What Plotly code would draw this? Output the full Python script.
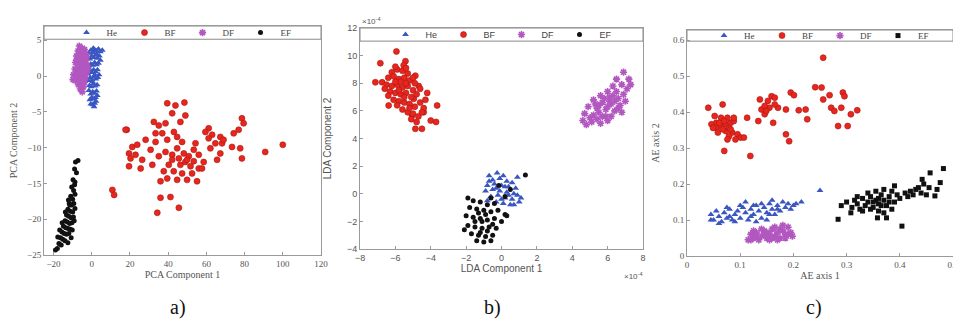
import plotly.graph_objects as go

W, H = 961, 326

# ---------------- Panel a) PCA ----------------
a_He_x = [5.5,4.5,3.5,2.5,1.5,0.5,-0.5,-1.5,4.0,3.0,2.0,1.0,0.0,-1.0,-2.0,3.5,2.5,1.5,0.5,-0.5,-1.5,3.0,2.0,1.0,0.0,-1.0,-2.0,3.2,2.2,1.2,0.2,-0.8,-1.8,2.8,1.8,0.8,-0.2,-1.2,2.5,1.5,0.5,-0.5,-1.5,2.0,1.0,0.0,-1.0,1.5,0.5,-0.5,1.2,2.2,4.5,3.8,2.6,0.8,-1.2,1.6,0.4,2.9]
a_He_y = [3.6,3.4,3.8,3.5,3.7,3.3,3.6,3.2,2.8,2.5,2.9,2.6,2.8,2.4,2.7,1.8,1.6,1.9,1.5,1.7,1.4,0.9,0.6,0.9,0.5,0.8,0.3,-0.2,-0.4,-0.1,-0.5,-0.2,-0.6,-1.2,-1.4,-1.1,-1.5,-1.3,-2.1,-2.4,-2.2,-2.5,-2.0,-3.0,-3.2,-3.0,-3.3,-3.8,-4.0,-3.9,-4.3,-3.5,2.2,0.2,3.1,3.9,1.0,0.2,-0.8,-2.7]

a_BF_x = [18.3,39.5,43.8,48.5,42.1,49.0,46.4,17.7,32.5,35.1,38.6,33.4,36.9,43.0,44.7,61.2,63.0,67.3,74.3,76.9,78.6,79.5,28.2,33.4,39.5,47.3,54.3,61.2,68.2,73.4,77.7,90.8,100.0,78.6,21.2,23.8,19.5,22.9,20.3,26.4,19.5,25.6,31.7,35.1,38.6,42.1,44.7,48.2,50.8,53.4,56.0,58.6,49.0,46.4,51.7,56.0,40.3,42.9,47.3,52.5,57.7,65.6,67.3,62.1,39.5,36.0,44.7,49.9,55.1,10.8,11.7,36.0,41.2,34.3,45.6,42.1,45.6,49.9,53.4,37.7,30.8,59.5,64.7,69.0]
a_BF_y = [-7.5,-3.8,-4.1,-3.7,-5.2,-5.5,-6.4,-7.5,-6.4,-6.9,-6.6,-8.0,-8.0,-7.8,-8.5,-7.3,-8.2,-8.5,-8.0,-7.5,-5.9,-6.6,-8.9,-9.2,-8.9,-9.2,-9.4,-8.7,-9.4,-9.9,-10.1,-10.6,-9.6,-11.5,-9.9,-9.6,-10.8,-11.0,-11.5,-11.7,-12.6,-12.9,-12.4,-11.2,-10.6,-11.0,-10.1,-10.8,-11.2,-10.3,-11.0,-12.0,-12.0,-12.4,-12.6,-12.9,-12.4,-13.3,-13.6,-13.6,-12.9,-11.7,-10.8,-10.1,-14.3,-14.7,-14.5,-14.5,-14.7,-15.9,-16.6,-17.0,-16.9,-19.1,-18.4,-11.7,-11.5,-11.7,-11.9,-13.3,-10.3,-7.8,-9.4,-8.9]

a_DF_x = [-6.5,-5.0,-3.8,-7.2,-6.0,-4.6,-3.2,-8.0,-6.8,-5.5,-4.2,-2.8,-8.5,-7.3,-6.1,-4.9,-3.7,-2.5,-8.8,-7.6,-6.4,-5.2,-4.0,-2.8,-9.5,-8.2,-7.0,-5.8,-4.6,-3.4,-8.6,-7.4,-6.2,-5.0,-3.8,-7.0,-5.6,-4.4,-6.0,-5.0,-9.8,-7.8,-5.8,-3.0,-6.6,-4.4,-5.5,-6.8,-2.2,-3.4]
a_DF_y = [4.2,3.9,3.7,3.5,3.3,3.4,3.1,2.8,2.6,2.9,2.5,2.7,1.9,1.7,2.0,1.6,1.8,1.5,1.0,0.8,1.1,0.7,0.9,0.6,0.2,0.1,0.3,-0.1,0.2,-0.2,-0.6,-0.5,-0.8,-0.5,-0.9,-1.2,-1.3,-1.5,-1.8,-2.2,-0.5,2.3,3.7,2.2,1.5,1.2,0.4,-0.1,1.0,0.3]

a_EF_x = [-8.5,-7.2,-9.0,-8.0,-9.8,-8.8,-10.5,-9.5,-11.0,-10.0,-8.8,-11.8,-10.6,-9.4,-12.5,-11.2,-10.0,-8.8,-13.2,-12.0,-10.8,-9.6,-14.0,-12.8,-11.6,-10.4,-9.2,-14.8,-13.6,-12.4,-11.2,-15.6,-14.4,-13.2,-12.0,-10.8,-16.4,-15.2,-14.0,-17.2,-16.0,-18.0,-19.0,-12.5,-11.5,-13.8,-15.5,-16.8,-17.8,-10.2,-9.0,-12.2]
a_EF_y = [-12.0,-11.8,-13.0,-13.5,-14.5,-14.8,-15.5,-16.0,-16.8,-17.2,-16.5,-17.8,-18.0,-17.8,-18.6,-18.9,-19.0,-18.5,-19.4,-19.6,-19.8,-19.7,-20.2,-20.4,-20.6,-20.5,-20.2,-21.0,-21.2,-21.3,-21.4,-21.8,-22.0,-22.1,-22.0,-22.6,-22.6,-22.8,-23.0,-23.4,-23.6,-24.1,-24.3,-23.3,-18.0,-19.0,-20.5,-21.5,-22.5,-21.5,-15.2,-17.3]

# ---------------- Panel b) LDA (x1e-4) ----------------
b_He_x = [-0.7,-0.25,0.9,-0.5,-0.1,0.3,-0.8,-0.4,0.0,0.4,0.8,-0.9,-0.5,-0.1,0.3,0.7,1.1,-0.6,-0.2,0.2,0.6,1.0,-0.3,0.1,0.5,-0.7,0.1,0.6,-0.3,0.9,0.0,0.4,-0.8,0.7,0.2]
b_He_y = [1.3,1.5,1.2,1.0,1.1,0.9,0.6,0.7,0.6,0.5,0.4,0.2,0.3,0.2,0.1,0.0,-0.3,-0.2,-0.1,-0.3,-0.4,-0.6,-0.6,-0.7,-0.8,0.9,1.3,0.8,0.4,-0.1,-0.4,-0.1,-0.5,-0.8,0.5]

b_BF_x = [-5.94,-6.85,-7.13,-6.75,-5.43,-5.53,-6.38,-3.64,-4.2,-4.87,-4.68,-4.96,-4.4,-5.06,-4.87,-4.5,-4.0,-3.7,-6.2,-5.9,-5.6,-5.3,-6.4,-6.1,-5.8,-5.5,-5.2,-4.9,-6.5,-6.2,-5.9,-5.6,-5.3,-5.0,-6.3,-6.0,-5.7,-5.4,-5.1,-4.8,-6.1,-5.8,-5.5,-5.2,-4.9,-4.6,-5.6,-5.3,-5.0,-4.7,-4.4,-5.7,-6.0,-5.4,-5.8,-5.5,-6.4,-4.6,-5.2,-4.8,-5.9,-4.3,-6.6,-5.0,-5.4,-6.0,-4.5,-5.1]
b_BF_y = [10.3,9.45,8.07,8.07,9.6,9.3,6.39,6.39,7.3,8.55,7.8,6.87,5.9,5.66,4.7,4.7,5.3,5.2,8.8,9.0,8.9,8.7,8.4,8.5,8.3,8.4,8.2,8.0,7.9,7.8,7.9,7.7,7.8,7.5,7.4,7.3,7.2,7.3,7.0,7.2,6.8,6.7,6.6,6.5,6.3,6.6,6.1,5.9,5.8,5.6,6.2,8.1,8.1,8.0,7.5,7.0,7.1,7.6,6.2,5.2,6.4,6.8,7.6,8.4,9.1,9.2,5.9,5.4]

b_DF_x = [6.9,7.2,6.5,6.8,7.1,6.3,6.0,6.5,6.9,5.6,6.1,6.6,7.0,5.2,5.7,6.2,6.7,4.9,5.4,5.9,6.4,6.8,4.7,5.2,5.7,6.2,4.6,5.1,5.6,6.0,5.0,5.5,6.0,6.4,5.8,5.3,6.3,4.8,5.4,6.6,7.3,5.9,6.1,5.5]
b_DF_y = [8.8,8.3,8.3,7.9,7.6,7.8,7.4,7.4,7.2,7.1,7.0,6.9,6.7,6.8,6.6,6.5,6.4,6.3,6.2,6.1,6.0,5.9,5.8,5.7,5.6,5.6,5.3,5.2,5.1,5.3,5.5,5.9,6.3,6.7,6.9,6.5,7.1,5.0,5.4,6.2,7.9,5.6,6.7,6.4]

b_EF_x = [-1.9,-1.6,-1.2,-0.8,-0.4,-1.8,-1.4,-1.0,-0.6,-0.2,0.2,-2.0,-1.6,-1.2,-0.8,-0.4,0.0,-1.9,-1.5,-1.1,-0.7,-0.3,-1.7,-1.3,-0.9,-0.5,-1.4,-1.0,-0.6,-1.1,-0.9,-1.3,-0.5,-1.5,-0.8,-1.2,-2.1,0.3,-0.15,1.35,0.5,0.2,-0.6]
b_EF_y = [-0.3,-0.5,-0.6,-0.8,-0.7,-1.0,-1.1,-1.2,-1.3,-1.2,-1.5,-1.6,-1.7,-1.8,-1.9,-1.8,-2.0,-2.3,-2.4,-2.5,-2.4,-2.5,-2.9,-3.0,-3.1,-3.0,-3.4,-3.5,-3.4,-2.0,-1.5,-1.4,-2.2,-2.0,-2.7,-2.8,-2.6,-1.6,0.6,1.35,0.3,-0.2,-0.3]

# ---------------- Panel c) AE ----------------
c_He_x = [0.045,0.05,0.055,0.06,0.065,0.07,0.075,0.08,0.085,0.09,0.095,0.10,0.105,0.11,0.115,0.12,0.125,0.13,0.135,0.14,0.145,0.15,0.155,0.16,0.165,0.17,0.175,0.18,0.185,0.19,0.20,0.215,0.25,0.06,0.09,0.12,0.15,0.10,0.13,0.16,0.075,0.11,0.14,0.17,0.08,0.045,0.195,0.155,0.125,0.205]
c_He_y = [0.115,0.10,0.125,0.11,0.095,0.12,0.105,0.13,0.10,0.115,0.125,0.105,0.135,0.12,0.10,0.13,0.115,0.14,0.125,0.105,0.135,0.12,0.145,0.13,0.115,0.14,0.125,0.15,0.135,0.145,0.14,0.15,0.182,0.09,0.095,0.11,0.10,0.14,0.095,0.155,0.135,0.15,0.145,0.13,0.11,0.10,0.13,0.115,0.14,0.145]

c_BF_x = [0.040,0.067,0.052,0.055,0.046,0.055,0.064,0.073,0.082,0.088,0.073,0.085,0.095,0.101,0.091,0.079,0.058,0.064,0.076,0.088,0.070,0.119,0.113,0.134,0.140,0.152,0.159,0.165,0.137,0.155,0.146,0.162,0.171,0.186,0.186,0.192,0.195,0.201,0.210,0.223,0.226,0.241,0.253,0.256,0.256,0.268,0.271,0.277,0.284,0.290,0.293,0.296,0.302,0.308,0.320,0.049,0.061,0.070,0.079,0.067,0.082,0.076,0.107,0.146,0.149,0.165]
c_BF_y = [0.412,0.421,0.389,0.370,0.366,0.356,0.361,0.366,0.370,0.375,0.347,0.343,0.338,0.329,0.324,0.333,0.343,0.384,0.384,0.384,0.292,0.278,0.384,0.375,0.407,0.431,0.444,0.440,0.435,0.412,0.394,0.370,0.412,0.407,0.338,0.319,0.454,0.447,0.405,0.407,0.380,0.469,0.468,0.551,0.435,0.447,0.412,0.403,0.361,0.412,0.454,0.444,0.361,0.394,0.405,0.356,0.370,0.375,0.356,0.352,0.352,0.324,0.329,0.417,0.403,0.421]

c_DF_x = [0.115,0.12,0.125,0.13,0.135,0.14,0.145,0.15,0.155,0.16,0.165,0.17,0.175,0.18,0.185,0.19,0.195,0.198,0.125,0.14,0.155,0.165,0.175,0.185,0.13,0.15,0.16,0.17,0.18,0.145,0.12,0.19]
c_DF_y = [0.045,0.06,0.05,0.065,0.045,0.055,0.07,0.05,0.06,0.075,0.055,0.065,0.05,0.07,0.06,0.08,0.065,0.055,0.07,0.075,0.045,0.08,0.075,0.05,0.055,0.065,0.05,0.045,0.085,0.06,0.045,0.06]

c_EF_x = [0.284,0.308,0.358,0.375,0.404,0.482,0.457,0.476,0.442,0.43,0.466,0.45,0.29,0.30,0.31,0.315,0.32,0.325,0.33,0.335,0.34,0.345,0.35,0.355,0.36,0.365,0.37,0.375,0.38,0.385,0.39,0.395,0.40,0.41,0.415,0.42,0.425,0.435,0.44,0.445,0.455,0.47,0.33,0.345,0.36,0.37,0.385,0.34,0.355,0.37,0.39,0.32,0.35,0.36,0.38,0.365]
c_EF_y = [0.102,0.120,0.106,0.106,0.083,0.243,0.231,0.204,0.213,0.185,0.167,0.17,0.14,0.15,0.135,0.155,0.145,0.13,0.16,0.14,0.15,0.165,0.135,0.155,0.145,0.17,0.155,0.14,0.165,0.18,0.15,0.17,0.16,0.175,0.165,0.18,0.17,0.19,0.175,0.2,0.19,0.185,0.125,0.13,0.125,0.12,0.13,0.175,0.18,0.185,0.195,0.165,0.15,0.16,0.15,0.14]

classes = ["He", "BF", "DF", "EF"]

BLUE = "#3a56c2"
RED = "#e8261e"
PURPLE = "#b257c0"
BLACK = "#111111"

def px_x(p):
    return p / W

def px_y(p):
    return 1 - p / H

panels = [
    dict(name="a", xd=[px_x(36), px_x(313)], yd=[px_y(247), px_y(18)], xr=[-25, 120], yr=[-25, 7],
         xt=list(range(-20, 121, 20)), yt=list(range(-25, 6, 5)), box=[5.15, 7], ystand=9,
         xtitle="PCA Component 1", ytitle="PCA Component 2", font="Liberation Serif",
         data={"He": (a_He_x, a_He_y), "BF": (a_BF_x, a_BF_y), "DF": (a_DF_x, a_DF_y), "EF": (a_EF_x, a_EF_y)},
         ef_symbol="circle"),
    dict(name="b", xd=[px_x(352), px_x(635)], yd=[px_y(241), px_y(20)], xr=[-8, 8], yr=[-4, 12],
         xt=list(range(-8, 9, 2)), yt=list(range(-4, 13, 2)), box=[11.05, 12], ystand=13,
         xtitle="LDA Component 1", ytitle="LDA Component 2", font="Liberation Sans",
         data={"He": (b_He_x, b_He_y), "BF": (b_BF_x, b_BF_y), "DF": (b_DF_x, b_DF_y), "EF": (b_EF_x, b_EF_y)},
         ef_symbol="circle"),
    dict(name="c", xd=[px_x(679), px_x(945)], yd=[px_y(248), px_y(22)], xr=[0, 0.5], yr=[0, 0.628],
         xt=[0, 0.1, 0.2, 0.3, 0.4, 0.5], yt=[0, 0.1, 0.2, 0.3, 0.4, 0.5, 0.6], box=[0.597, 0.628], ystand=11,
         xtitle="AE axis 1", ytitle="AE axis 2", font="Liberation Serif",
         data={"He": (c_He_x, c_He_y), "BF": (c_BF_x, c_BF_y), "DF": (c_DF_x, c_DF_y), "EF": (c_EF_x, c_EF_y)},
         ef_symbol="square"),
]

fig = go.Figure()
layout = dict(width=W, height=H, margin=dict(l=0, r=0, t=0, b=0, autoexpand=False),
              paper_bgcolor="white", plot_bgcolor="white", showlegend=True)
shapes = []
annotations = []

for i, p in enumerate(panels):
    n = "" if i == 0 else str(i + 1)
    xa, ya = "x" + n, "y" + n
    leg = "legend" + n
    styles = {
        "He": dict(symbol="triangle-up", size=6, color=BLUE, line=dict(width=0)),
        "BF": dict(symbol="circle", size=6, color=RED, line=dict(width=0.6, color="#a81812")),
        "DF": dict(symbol="asterisk-open", size=6, color=PURPLE, line=dict(width=1.6, color=PURPLE)),
        "EF": dict(symbol=p["ef_symbol"], size=5, color=BLACK, line=dict(width=0)),
    }
    for c in classes:
        xs, ys = p["data"][c]
        fig.add_trace(go.Scatter(x=xs, y=ys, mode="markers", name=c, marker=styles[c],
                                 xaxis=xa, yaxis=ya, legend=leg, showlegend=True))
    axcommon = dict(showline=True, linecolor="#9a9a9a", linewidth=1, mirror=True, showgrid=False,
                    zeroline=False, ticks="inside", ticklen=3, tickcolor="#9a9a9a", automargin=False,
                    ticklabeloverflow="allow",
                    tickfont=dict(family=p["font"], size=9, color="#555555"))
    layout["xaxis" + n] = dict(domain=p["xd"], range=p["xr"], tickvals=p["xt"], anchor=ya,
                               title=dict(text=p["xtitle"], standoff=3,
                                          font=dict(family=p["font"], size=10, color="#555555")),
                               **axcommon)
    layout["yaxis" + n] = dict(domain=p["yd"], range=p["yr"], tickvals=p["yt"], anchor=xa,
                               title=dict(text=p["ytitle"], standoff=p["ystand"],
                                          font=dict(family=p["font"], size=10, color="#555555")),
                               **axcommon)
    # legend box spanning the top of the axes
    shapes.append(dict(type="rect", xref=xa + " domain", yref=ya, x0=0, x1=1, y0=p["box"][0], y1=p["box"][1],
                       line=dict(color="#8a8a8a", width=1), fillcolor="white", layer="below"))
    ymid_data = (p["box"][0] + p["box"][1]) / 2
    frac = (ymid_data - p["yr"][0]) / (p["yr"][1] - p["yr"][0])
    ymid = p["yd"][0] + frac * (p["yd"][1] - p["yd"][0])
    layout[leg] = dict(orientation="h", x=(p["xd"][0] + p["xd"][1]) / 2, xanchor="center",
                       y=ymid, yanchor="middle", bgcolor="rgba(0,0,0,0)", borderwidth=0,
                       font=dict(family=p["font"], size=9, color="#444444"),
                       itemwidth=30, entrywidth=13, entrywidthmode="pixels",
                       tracegroupgap=0, itemsizing="trace")

# exponent labels for panel b
annotations.append(dict(text="×10<sup>-4</sup>", xref="paper", yref="paper", x=px_x(352), y=px_y(13),
                        xanchor="left", yanchor="middle", showarrow=False,
                        font=dict(family="Liberation Sans", size=8, color="#555555")))
annotations.append(dict(text="×10<sup>-4</sup>", xref="paper", yref="paper", x=px_x(637), y=px_y(268),
                        xanchor="right", yanchor="middle", showarrow=False,
                        font=dict(family="Liberation Sans", size=8, color="#555555")))
# captions
for lab, cx in [("a)", 170), ("b)", 484), ("c)", 806)]:
    annotations.append(dict(text=lab, xref="paper", yref="paper", x=px_x(cx), y=px_y(299),
                            xanchor="center", yanchor="middle", showarrow=False,
                            font=dict(family="Liberation Serif", size=20, color="#111111")))

layout["shapes"] = shapes
layout["annotations"] = annotations
fig.update_layout(**layout)
fig.write_html("out.html")
